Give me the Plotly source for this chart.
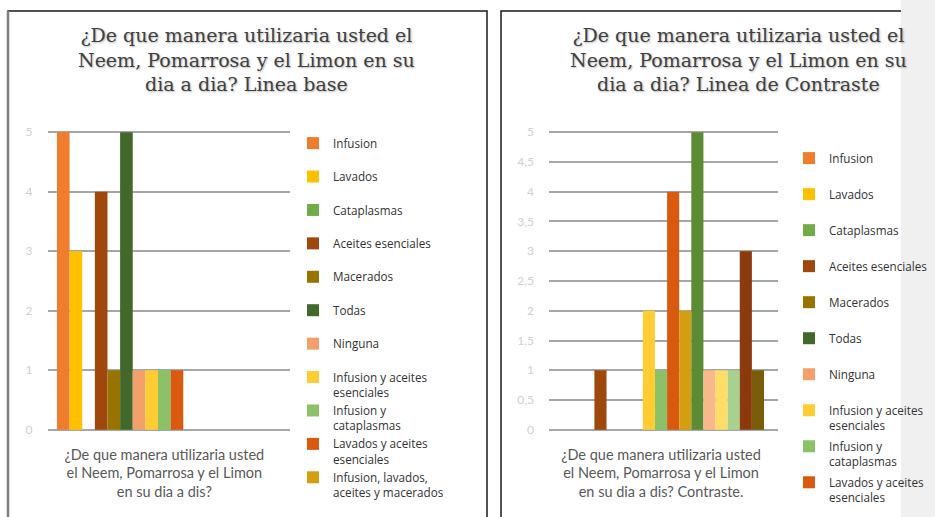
import textwrap
import plotly.graph_objects as go

# ---------------- data ----------------
series_names = [
    "Infusion", "Lavados", "Cataplasmas", "Aceites esenciales", "Macerados",
    "Todas", "Ninguna", "Infusion y aceites esenciales", "Infusion y cataplasmas",
    "Lavados y aceites esenciales", "Infusion, lavados, aceites y macerados",
    "Serie 12", "Serie 13", "Serie 14", "Serie 15", "Serie 16", "Serie 17",
]
series_colors = [
    "#F07C2E", "#FFC000", "#70AD47", "#9E480E", "#997300", "#43682B",
    "#F4A06A", "#FFCD33", "#8CC168", "#D9590F", "#D49E10", "#5B8C35",
    "#F8B88A", "#FFDD66", "#A9D18E", "#8A3A0C", "#7A5C0A",
]
base_values = [5, 3, 0, 4, 1, 5, 1, 1, 1, 1, 0, 0, 0, 0, 0, 0, 0]
contrast_values = [0, 0, 0, 1, 0, 0, 0, 2, 1, 4, 2, 5, 1, 1, 1, 3, 1]

base_category = "¿De que manera utilizaria usted el Neem, Pomarrosa y el Limon en su dia a dis?"
contrast_category = "¿De que manera utilizaria usted el Neem, Pomarrosa y el Limon en su dia a dis? Contraste."
title_base = "¿De que manera utilizaria usted el Neem, Pomarrosa y el Limon en su dia a dia? Linea base"
title_contrast = "¿De que manera utilizaria usted el Neem, Pomarrosa y el Limon en su dia a dia? Linea de Contraste"

legend_count_base = 11
legend_count_contrast = 10

# ---------------- helpers ----------------
W, H = 935, 517


def px_x(p):
    return p / W


def px_y(p):
    return 1 - p / H


def wrap(text, width):
    return "<br>".join(textwrap.wrap(text, width))


def legend_label(name):
    lines = textwrap.wrap(name, 19)
    if len(lines) == 1:
        lines.append("\u00a0")
    return "<br>".join(lines)


fig = go.Figure()

for i, (name, color) in enumerate(zip(series_names, series_colors)):
    fig.add_trace(go.Bar(
        x=[wrap(base_category, 31)], y=[base_values[i]],
        name=legend_label(name), marker=dict(color=color, line=dict(width=0)),
        xaxis="x", yaxis="y", legend="legend", legendgroup=f"b{i}",
        showlegend=i < legend_count_base,
        hovertemplate=name + ": %{y}<extra></extra>",
    ))
for i, (name, color) in enumerate(zip(series_names, series_colors)):
    fig.add_trace(go.Bar(
        x=[wrap(contrast_category, 31)], y=[contrast_values[i]],
        name=legend_label(name), marker=dict(color=color, line=dict(width=0)),
        xaxis="x2", yaxis="y2", legend="legend2", legendgroup=f"c{i}",
        showlegend=i < legend_count_contrast,
        hovertemplate=name + ": %{y}<extra></extra>",
    ))

grid_color = "#A6A6A6"
tick_font = dict(family="Lato", size=12, color="#D0D0D0")
cat_font = dict(family="Lato", size=14.5, color="#595959")
ydom = [px_y(431), px_y(131)]

common_x = dict(type="category", showgrid=False, zeroline=False, showline=False,
                ticks="", tickfont=cat_font, ticklabelstandoff=13, fixedrange=True)
common_y = dict(range=[-0.02, 5.02], showgrid=True, gridcolor=grid_color, gridwidth=1.5,
                zeroline=True, zerolinecolor=grid_color, zerolinewidth=1.5,
                showline=False, ticks="", tickfont=tick_font, ticklabelstandoff=14,
                fixedrange=True)

legend_common = dict(xanchor="left", yanchor="top", valign="top", traceorder="grouped",
                     bgcolor="rgba(0,0,0,0)", borderwidth=0,
                     font=dict(family="Open Sans", size=11.7, color="#333333"))

fig.update_layout(
    width=W, height=H,
    margin=dict(l=0, r=0, t=0, b=0, autoexpand=False),
    paper_bgcolor="white", plot_bgcolor="rgba(0,0,0,0)",
    barmode="group", bargap=0.081, bargroupgap=0,
    separators=",.",
    xaxis=dict(common_x, domain=[px_x(47.5), px_x(290)], range=[-0.5, 0.538], anchor="y"),
    yaxis=dict(common_y, domain=ydom, dtick=1, anchor="x"),
    xaxis2=dict(common_x, domain=[px_x(549), px_x(778)], range=[-0.5, 0.522], anchor="y2"),
    yaxis2=dict(common_y, domain=ydom, dtick=0.5, anchor="x2"),
    legend=dict(legend_common, x=px_x(293), y=px_y(129), tracegroupgap=0),
    legend2=dict(legend_common, x=px_x(789), y=px_y(144), tracegroupgap=2.6),
)

# panel frames and side strip
fig.add_shape(type="rect", xref="paper", yref="paper",
              x0=px_x(8), x1=px_x(487), y0=-0.1, y1=px_y(11),
              line=dict(color="#1A1A1A", width=1.5), fillcolor="rgba(0,0,0,0)", layer="below")
fig.add_shape(type="line", xref="paper", yref="paper",
              x0=px_x(8), x1=px_x(8), y0=-0.1, y1=px_y(11),
              line=dict(color="#7F7F7F", width=2.5), layer="below")
fig.add_shape(type="rect", xref="paper", yref="paper",
              x0=px_x(501), x1=1.1, y0=-0.1, y1=px_y(11),
              line=dict(color="#1A1A1A", width=1.5), fillcolor="rgba(0,0,0,0)", layer="below")
fig.add_shape(type="rect", xref="paper", yref="paper",
              x0=px_x(901), x1=1.0, y0=0, y1=1,
              line=dict(width=0), fillcolor="#F0F0F0", layer="below")

title_font = dict(family="DejaVu Serif", size=19, color="#404040",
                  shadow="1px 1px 2px rgba(0,0,0,0.3)")
fig.add_annotation(text=wrap(title_base, 34), xref="paper", yref="paper",
                   x=px_x(246), y=px_y(59), xanchor="center", yanchor="middle",
                   showarrow=False, font=title_font, align="center")
fig.add_annotation(text=wrap(title_contrast, 34), xref="paper", yref="paper",
                   x=px_x(738), y=px_y(59), xanchor="center", yanchor="middle",
                   showarrow=False, font=title_font, align="center")

fig.write_html(
    "out.html",
    config={"displayModeBar": False},
    post_script="document.body.style.margin='0';document.body.style.overflow='hidden';",
)
